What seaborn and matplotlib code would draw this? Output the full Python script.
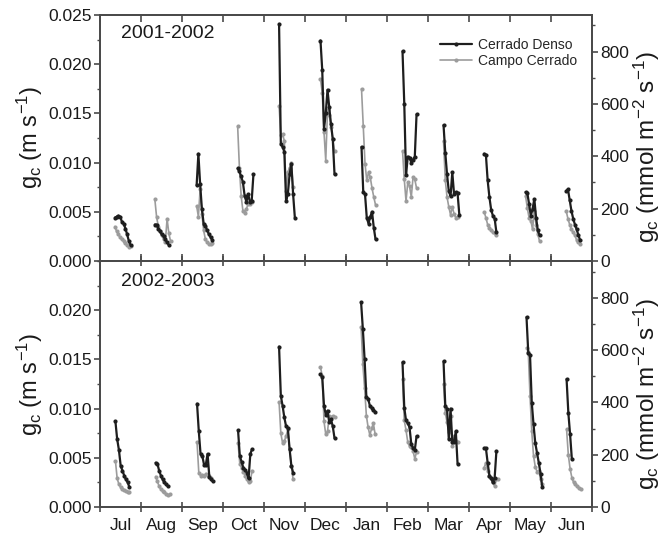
import numpy as np
import pandas as pd
import matplotlib
matplotlib.use("Agg")
import matplotlib.pyplot as plt
import seaborn as sns
from matplotlib.lines import Line2D
from matplotlib.ticker import MultipleLocator, FixedLocator, FormatStrFormatter

# ---------------------------------------------------------------------------
# Canopy conductance (m s-1) during dry-down sequences, one sequence per month
# ---------------------------------------------------------------------------
MONTHS = ["Jul", "Aug", "Sep", "Oct", "Nov", "Dec",
          "Jan", "Feb", "Mar", "Apr", "May", "Jun"]
SITES = ["Cerrado Denso", "Campo Cerrado"]
SEASONS = ["2001-2002", "2002-2003"]

# first measurement day within each month
START_0102 = [11.1, 10.3, 10.9, 10.9, 11.2, 11.5, 11.5, 11.5, 11.5, 11.2, 11.5, 11.2]
START_0203 = [11.5, 10.9, 11.2, 11.2, 11.2, 11.5, 11.2, 11.5, 11.5, 11.2, 12.2, 11.5]
STEP_DAYS = 1.3
DAYS_PER_MONTH = 30.4

DENSO_0102 = [
    [0.0044, 0.0045, 0.0046, 0.0045, 0.0040, 0.0038, 0.0033, 0.0027, 0.0020, 0.0016],
    [0.0037, 0.0037, 0.0033, 0.0030, 0.0027, 0.0025, 0.0022, 0.0019, 0.0016],
    [0.0077, 0.0109, 0.0078, 0.0053, 0.0038, 0.0036, 0.0031, 0.0027, 0.0024, 0.0021],
    [0.0094, 0.0091, 0.0086, 0.0080, 0.0066, 0.0060, 0.0068, 0.0060, 0.0061, 0.0088],
    [0.0241, 0.0119, 0.0116, 0.0111, 0.0061, 0.0068, 0.0088, 0.0099, 0.0068, 0.0044],
    [0.0224, 0.0194, 0.0134, 0.0150, 0.0174, 0.0156, 0.0139, 0.0124, 0.0088],
    [0.0116, 0.0070, 0.0068, 0.0044, 0.0038, 0.0045, 0.0050, 0.0034, 0.0022],
    [0.0213, 0.0160, 0.0087, 0.0106, 0.0105, 0.0100, 0.0103, 0.0106, 0.0149],
    [0.0138, 0.0110, 0.0088, 0.0071, 0.0066, 0.0090, 0.0068, 0.0070, 0.0069, 0.0047],
    [0.0109, 0.0108, 0.0082, 0.0065, 0.0052, 0.0046, 0.0043, 0.0029],
    [0.0070, 0.0069, 0.0058, 0.0046, 0.0053, 0.0063, 0.0044, 0.0031, 0.0026],
    [0.0071, 0.0073, 0.0062, 0.0051, 0.0043, 0.0037, 0.0032, 0.0026, 0.0021],
]
CAMPO_0102 = [
    [0.0035, 0.0030, 0.0027, 0.0024, 0.0022, 0.0020, 0.0018, 0.0016, 0.0014, 0.0015],
    [0.0063, 0.0045, 0.0035, 0.0030, 0.0026, 0.0022, 0.0019, 0.0043, 0.0028, 0.0020],
    [0.0056, 0.0045, 0.0073, 0.0048, 0.0031, 0.0022, 0.0019, 0.0017, 0.0017, 0.0018],
    [0.0137, 0.0095, 0.0066, 0.0051, 0.0049, 0.0053, 0.0058, 0.0058, 0.0060],
    [0.0158, 0.0128, 0.0129, 0.0122, 0.0071, 0.0090, 0.0095, 0.0100, 0.0075],
    [0.0185, 0.0171, 0.0131, 0.0102, 0.0153, 0.0148, 0.0136, 0.0124, 0.0112],
    [0.0175, 0.0137, 0.0099, 0.0082, 0.0090, 0.0085, 0.0074, 0.0065, 0.0057],
    [0.0112, 0.0083, 0.0061, 0.0080, 0.0076, 0.0065, 0.0085, 0.0083, 0.0074],
    [0.0122, 0.0082, 0.0065, 0.0055, 0.0047, 0.0055, 0.0048, 0.0044, 0.0045],
    [0.0050, 0.0044, 0.0037, 0.0034, 0.0031, 0.0029, 0.0028, 0.0026],
    [0.0066, 0.0054, 0.0044, 0.0041, 0.0032, 0.0051, 0.0037, 0.0027, 0.0020],
    [0.0051, 0.0043, 0.0037, 0.0032, 0.0029, 0.0026, 0.0021, 0.0019, 0.0017],
]
DENSO_0203 = [
    [0.0087, 0.0069, 0.0058, 0.0042, 0.0037, 0.0032, 0.0028, 0.0025, 0.0020],
    [0.0045, 0.0044, 0.0037, 0.0032, 0.0028, 0.0025, 0.0023, 0.0021],
    [0.0105, 0.0077, 0.0054, 0.0052, 0.0043, 0.0043, 0.0054, 0.0031, 0.0028, 0.0026],
    [0.0078, 0.0052, 0.0046, 0.0040, 0.0038, 0.0035, 0.0029, 0.0054, 0.0059],
    [0.0163, 0.0113, 0.0103, 0.0091, 0.0082, 0.0080, 0.0059, 0.0042, 0.0035],
    [0.0135, 0.0132, 0.0103, 0.0094, 0.0098, 0.0086, 0.0089, 0.0082, 0.0070],
    [0.0208, 0.0181, 0.0150, 0.0112, 0.0110, 0.0103, 0.0101, 0.0099, 0.0097],
    [0.0147, 0.0101, 0.0088, 0.0085, 0.0081, 0.0064, 0.0060, 0.0058, 0.0072],
    [0.0148, 0.0103, 0.0100, 0.0069, 0.0100, 0.0066, 0.0066, 0.0077, 0.0044],
    [0.0060, 0.0060, 0.0045, 0.0032, 0.0029, 0.0025, 0.0030, 0.0057],
    [0.0193, 0.0157, 0.0155, 0.0106, 0.0084, 0.0065, 0.0055, 0.0045, 0.0034, 0.0020],
    [0.0130, 0.0096, 0.0074, 0.0049],
]
CAMPO_0203 = [
    [0.0047, 0.0029, 0.0023, 0.0020, 0.0018, 0.0017, 0.0016, 0.0015, 0.0015],
    [0.0031, 0.0026, 0.0021, 0.0018, 0.0016, 0.0015, 0.0013, 0.0012, 0.0013],
    [0.0066, 0.0035, 0.0032, 0.0033, 0.0032, 0.0034, 0.0033, 0.0032, 0.0030],
    [0.0065, 0.0044, 0.0040, 0.0036, 0.0032, 0.0028, 0.0025, 0.0026, 0.0037],
    [0.0107, 0.0075, 0.0065, 0.0067, 0.0072, 0.0079, 0.0059, 0.0042, 0.0028],
    [0.0142, 0.0133, 0.0087, 0.0074, 0.0077, 0.0092, 0.0091, 0.0092, 0.0091],
    [0.0183, 0.0145, 0.0121, 0.0093, 0.0081, 0.0073, 0.0080, 0.0085, 0.0074],
    [0.0130, 0.0088, 0.0078, 0.0066, 0.0062, 0.0061, 0.0057, 0.0049, 0.0056],
    [0.0125, 0.0096, 0.0086, 0.0076, 0.0092, 0.0062, 0.0072, 0.0067, 0.0066],
    [0.0040, 0.0045, 0.0037, 0.0032, 0.0030, 0.0025, 0.0021, 0.0028, 0.0028],
    [0.0162, 0.0158, 0.0113, 0.0077, 0.0052, 0.0041, 0.0036, 0.0037, 0.0028, 0.0023],
    [0.0079, 0.0053, 0.0039, 0.0030, 0.0025, 0.0023, 0.0021, 0.0019, 0.0018],
]

# m s-1 -> mmol m-2 s-1 (molar density of air at site elevation)
CONV = 37600.0

# ---------------------------------------------------------------------------
# long-form table
# ---------------------------------------------------------------------------
records = []
season_data = {
    SEASONS[0]: (START_0102, {SITES[0]: DENSO_0102, SITES[1]: CAMPO_0102}),
    SEASONS[1]: (START_0203, {SITES[0]: DENSO_0203, SITES[1]: CAMPO_0203}),
}
for season, (start, series) in season_data.items():
    for site, months in series.items():
        for m, vals in enumerate(months):
            for i, v in enumerate(vals):
                records.append({
                    "season": season,
                    "site": site,
                    "seg": f"{site}-{m}",
                    "x": m + (start[m] + i * STEP_DAYS) / DAYS_PER_MONTH,
                    "gc": v,
                })
df = pd.DataFrame(records)

# ---------------------------------------------------------------------------
# styling
# ---------------------------------------------------------------------------
sns.set_theme(style="ticks")
AX_COLOR = "#4a4a4a"
plt.rcParams.update({
    "font.family": ["Liberation Sans", "DejaVu Sans"],
    "mathtext.fontset": "custom",
    "mathtext.rm": "Liberation Sans",
    "mathtext.it": "Liberation Sans:italic",
    "mathtext.bf": "Liberation Sans:bold",
    "axes.edgecolor": AX_COLOR,
    "axes.linewidth": 1.3,
    "xtick.color": AX_COLOR,
    "ytick.color": AX_COLOR,
    "xtick.labelcolor": "#1a1a1a",
    "ytick.labelcolor": "#1a1a1a",
    "xtick.labelsize": 12.5,
    "ytick.labelsize": 12.5,
})

COLORS = {"Cerrado Denso": "#1e1e1e", "Campo Cerrado": "#9c9c9c"}
LWS = {"Cerrado Denso": 1.6, "Campo Cerrado": 1.2}

fig = plt.figure(figsize=(6.66, 5.41), dpi=100)
L, W, H = 0.150, 0.739, 0.4547
axes = [fig.add_axes([L, 0.5176, W, H]), fig.add_axes([L, 0.0628, W, H])]

for k, (ax, season) in enumerate(zip(axes, SEASONS)):
    sub = df[df["season"] == season]
    for site in ["Campo Cerrado", "Cerrado Denso"]:
        sns.lineplot(data=sub[sub["site"] == site], x="x", y="gc", units="seg",
                     estimator=None, sort=False, color=COLORS[site],
                     linewidth=LWS[site], marker="o", markersize=3.0,
                     markeredgewidth=0, ax=ax, legend=False)

    ax.set_xlim(0, 12)
    ax.set_ylim(0, 0.025)
    ax.set_xlabel("")
    ax.set_ylabel("")

    # month boundaries as ticks, month names centred between them
    ax.xaxis.set_major_locator(FixedLocator(np.arange(13)))
    ax.xaxis.set_minor_locator(FixedLocator(np.arange(12) + 0.5))
    ax.set_xticklabels([])
    if k == 1:
        ax.set_xticklabels(MONTHS, minor=True)
        ax.tick_params(axis="x", which="major", direction="inout", length=7,
                       width=1.2, top=True)
    else:
        ax.tick_params(axis="x", which="major", direction="in", length=5,
                       width=1.2, top=True)
    ax.tick_params(axis="x", which="minor", length=0, pad=8, labelsize=12.5)

    yt = np.arange(0, 0.0251, 0.005) if k == 0 else np.arange(0, 0.0201, 0.005)
    ax.yaxis.set_major_locator(FixedLocator(yt))
    ax.yaxis.set_minor_locator(MultipleLocator(0.0025))
    ax.yaxis.set_major_formatter(FormatStrFormatter("%.3f"))
    ax.tick_params(axis="y", which="major", direction="out", length=4, width=1.2, pad=2)
    ax.tick_params(axis="y", which="minor", direction="out", length=2.5, width=1.0)

    ax2 = ax.twinx()
    ax2.set_ylim(0, 0.025 * CONV)
    ax2.yaxis.set_major_locator(FixedLocator([0, 200, 400, 600, 800]))
    ax2.yaxis.set_minor_locator(MultipleLocator(100))
    ax2.tick_params(axis="y", which="major", direction="out", length=4, width=1.2, pad=2)
    ax2.tick_params(axis="y", which="minor", direction="out", length=2.5, width=1.0)
    for sp in ax2.spines.values():
        sp.set_color(AX_COLOR)
        sp.set_linewidth(1.3)

    ax.text(0.043, 0.925 if k == 0 else 0.915, season, transform=ax.transAxes,
            fontsize=14, va="center", ha="left", color="#1a1a1a")

# axis titles for both panels
for yc in (0.745, 0.290):
    fig.text(0.045, yc, r"g$_{\mathrm{c}}$ (m s$^{-1}$)", rotation=90,
             ha="center", va="center", fontsize=17, color="#1a1a1a")
for yc in (0.728, 0.272):
    fig.text(0.972, yc, r"g$_{\mathrm{c}}$ (mmol m$^{-2}$ s$^{-1}$)", rotation=90,
             ha="center", va="center", fontsize=17.5, color="#1a1a1a")

handles = [Line2D([], [], color=COLORS[s], lw=LWS[s], marker="o",
                  markersize=3.0, markeredgewidth=0) for s in SITES]
axes[0].legend(handles, SITES, loc="upper left", bbox_to_anchor=(0.691, 0.905),
               frameon=False, fontsize=10, handlelength=2.3, handletextpad=0.45,
               labelspacing=0.1, borderpad=0, borderaxespad=0)

fig.savefig("out.png", dpi=100)
